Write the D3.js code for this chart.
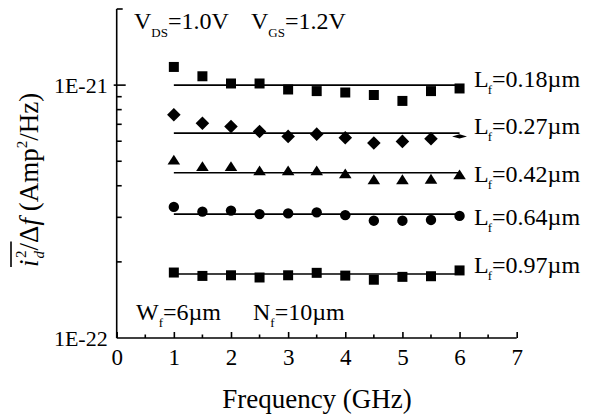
<!DOCTYPE html>
<html><head><meta charset="utf-8">
<script src="https://cdn.jsdelivr.net/npm/d3@7"></script>
<style>body{margin:0;background:#fff}svg{display:block}</style>
</head><body><svg id="c" width="591" height="416"></svg>
<script>
// ---- data ----
const freqs = [1, 1.5, 2, 2.5, 3, 3.5, 4, 4.5, 5, 5.5, 6];
const seriesLabels = ["0.18", "0.27", "0.42", "0.64", "0.97"];
const noise018 = [1.18e-21, 1.084e-21, 1.015e-21, 1.015e-21, 0.961e-21, 0.947e-21, 0.935e-21, 0.914e-21, 0.866e-21, 0.947e-21, 0.97e-21];
const noise027 = [7.63e-22, 7.07e-22, 6.86e-22, 6.56e-22, 6.27e-22, 6.40e-22, 6.19e-22, 5.90e-22, 5.99e-22, 6.14e-22, 6.27e-22];
const noise042 = [5.0e-22, 4.71e-22, 4.71e-22, 4.53e-22, 4.53e-22, 4.53e-22, 4.41e-22, 4.18e-22, 4.18e-22, 4.20e-22, 4.37e-22];
const noise064 = [3.30e-22, 3.16e-22, 3.19e-22, 3.09e-22, 3.11e-22, 3.14e-22, 3.06e-22, 2.91e-22, 2.91e-22, 2.93e-22, 3.04e-22];
const noise097 = [1.815e-22, 1.76e-22, 1.77e-22, 1.735e-22, 1.77e-22, 1.81e-22, 1.765e-22, 1.70e-22, 1.745e-22, 1.755e-22, 1.85e-22];
const fitValues = [1.0e-21, 6.46e-22, 4.5e-22, 3.09e-22, 1.79e-22];
const fitRange = [1, 6];
const xTicks = [0, 1, 2, 3, 4, 5, 6, 7];
const yMajorTicks = [1e-22, 1e-21];
const yTickLabels = ["1E-22", "1E-21"];
const markerTypes = ["square", "diamond", "triangle", "circle", "square"];

const seriesData = [noise018, noise027, noise042, noise064, noise097];

// ---- layout ----
const svg = d3.select("#c");
const FONT = "'Liberation Serif','Times New Roman',serif";
const x = d3.scaleLinear().domain([0, 7]).range([116.7, 516.7]);
const y = d3.scaleLog().domain([1e-22, 2e-21]).range([338, 9]);

const g = svg.append("g");

// axes
const xAxis = d3.axisBottom(x).tickValues(xTicks).tickSize(-6).tickPadding(11).tickFormat(d3.format("d"));
const gx = g.append("g").attr("transform", `translate(0,${y.range()[0]})`).call(xAxis);
gx.select(".domain").attr("d", `M${x(0)},0H${x(7)}`);
gx.selectAll(".minor").data(d3.range(0.5, 7, 1)).join("line")
  .attr("x1", d => x(d)).attr("x2", d => x(d)).attr("y1", 0).attr("y2", -3.5);

const yMinor = [];
[1e-22, 1e-21].forEach(dec => { for (let k = 2; k <= 9; k++) { const v = k * dec; if (v <= 2e-21 + 1e-30) yMinor.push(v); } });
const yAxis = d3.axisLeft(y).tickValues(yMajorTicks).tickSize(0).tickPadding(9)
  .tickFormat((d, i) => yTickLabels[i]);
const gy = g.append("g").attr("transform", `translate(${x(0)},0)`).call(yAxis);
gy.select(".domain").attr("d", `M0,${y.range()[0]}V${y.range()[1]}`);
gy.selectAll(".majorT").data(yMajorTicks.filter(d => d > 1e-22)).join("line")
  .attr("x1", -3).attr("x2", 9).attr("y1", d => y(d)).attr("y2", d => y(d));
gy.selectAll(".minorT").data(yMinor).join("line")
  .attr("x1", 0).attr("x2", d => (d >= 2e-21 - 1e-30 ? 6 : 5)).attr("y1", d => y(d)).attr("y2", d => y(d));

g.selectAll(".domain, line").attr("stroke", "#000").attr("stroke-width", 1.6);
gx.selectAll(".tick text").attr("font-family", FONT).attr("font-size", 23).attr("fill", "#000");
gy.selectAll(".tick text").attr("font-family", FONT).attr("font-size", 22).attr("fill", "#000").attr("dy", "0.35em");

// fit lines
g.append("g").selectAll("line").data(fitValues).join("line")
  .attr("x1", x(fitRange[0])).attr("x2", x(fitRange[1]))
  .attr("y1", d => y(d)).attr("y2", d => y(d))
  .attr("stroke", "#000").attr("stroke-width", 1.6);

// markers
const symSquare = d3.symbol().type(d3.symbolSquare).size(100)();
const symDiamond = d3.symbol().type(d3.symbolSquare).size(92)();
const symTriangle = d3.symbol().type(d3.symbolTriangle).size(62)();
const symCircle = d3.symbol().type(d3.symbolCircle).size(85)();
seriesData.forEach((vals, si) => {
  const type = markerTypes[si];
  const grp = g.append("g");
  vals.forEach((v, i) => {
    const px = x(freqs[i]), py = y(v);
    let tr = `translate(${px},${py})`, path = symSquare;
    if (type === "diamond") {
      path = symDiamond;
      tr += (i === vals.length - 1) ? " scale(1.1,0.3) rotate(45)" : " rotate(45)";
    } else if (type === "triangle") { path = symTriangle; tr += " scale(1.05,0.95)"; }
    else if (type === "circle") path = symCircle;
    grp.append("path").attr("d", path).attr("transform", tr).attr("fill", "#000");
  });
});

// series labels
const labelBaselines = [87, 134, 182, 225, 273];
seriesLabels.forEach((lab, i) => {
  const t = g.append("text").attr("x", 474).attr("y", labelBaselines[i])
    .attr("font-family", FONT).attr("font-size", 24).attr("fill", "#000");
  t.append("tspan").text("L");
  t.append("tspan").attr("font-size", 13).attr("dy", 7).attr("dx", -1).text("f");
  t.append("tspan").attr("dy", -7).attr("dx", 0).text("=" + lab + "\u00b5m");
});

// annotations
function subText(xp, yp, main, sub, rest, fs, sfs, dxs, dyS) {
  const t = g.append("text").attr("x", xp).attr("y", yp)
    .attr("font-family", FONT).attr("font-size", fs).attr("fill", "#000");
  t.append("tspan").text(main);
  t.append("tspan").attr("font-size", sfs).attr("dy", dyS).attr("dx", dxs[0]).text(sub);
  t.append("tspan").attr("dy", -dyS).attr("dx", dxs[1]).text(rest);
  return t;
}
subText(134, 29, "V", "DS", "=1.0V", 24, 13, [0, 0], 8);
subText(251, 29, "V", "GS", "=1.2V", 24, 13, [0, 0], 8);
subText(136, 320, "W", "f", "=6\u00b5m", 24, 13, [0, 0], 7);
subText(253, 320, "N", "f", "=10\u00b5m", 24, 13, [0, 0], 7);

// x title
g.append("text").attr("x", 317).attr("y", 408).attr("text-anchor", "middle")
  .attr("font-family", FONT).attr("font-size", 27).attr("fill", "#000").text("Frequency (GHz)");

// y title
const yt = g.append("g").attr("transform", "translate(38,267) rotate(-90)");
const ytxt = yt.append("text").attr("x", 0).attr("y", 0)
  .attr("font-family", FONT).attr("font-size", 27).attr("fill", "#000");
ytxt.append("tspan").attr("font-style", "italic").text("i");
ytxt.append("tspan").attr("font-style", "italic").attr("font-size", 15).attr("dy", 6).attr("dx", 1).text("d");
ytxt.append("tspan").attr("font-size", 15).attr("dy", -18).attr("dx", -7).text("2");
ytxt.append("tspan").attr("dy", 12).text("/\u0394");
ytxt.append("tspan").attr("font-style", "italic").text("f");
ytxt.append("tspan").text(" (Amp");
ytxt.append("tspan").attr("font-size", 15).attr("dy", -11).text("2");
ytxt.append("tspan").attr("dy", 11).text("/Hz)");
const olLen = ytxt.node().getSubStringLength(0, 3) + 3;
yt.append("line").attr("x1", 0).attr("x2", olLen).attr("y1", -27).attr("y2", -27)
  .attr("stroke", "#000").attr("stroke-width", 1.6);
</script></body></html>
